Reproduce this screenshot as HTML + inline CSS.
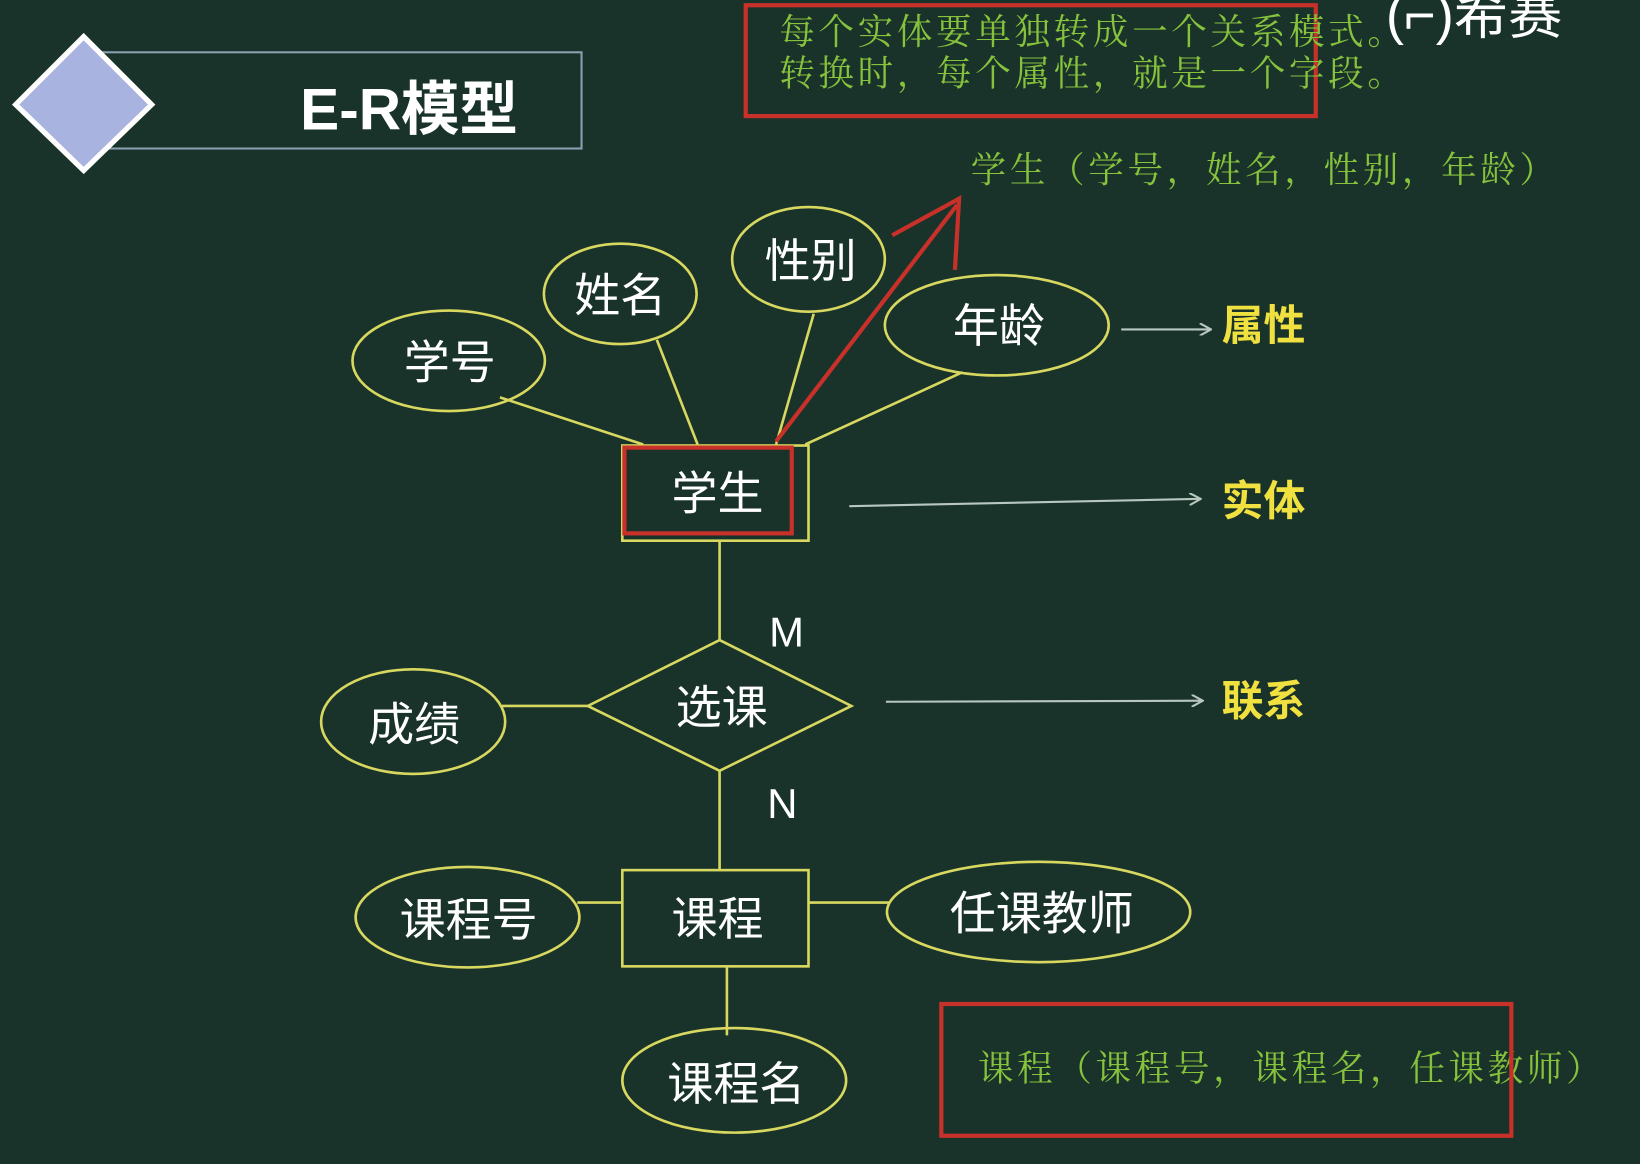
<!DOCTYPE html>
<html><head><meta charset="utf-8"><style>
html,body{margin:0;padding:0;background:#19332a;}
svg{display:block}
</style></head><body>
<svg width="1640" height="1164" viewBox="0 0 1568 1113" preserveAspectRatio="none" xmlns="http://www.w3.org/2000/svg" font-family="'Liberation Sans','Noto Sans CJK SC',sans-serif">
<defs>
<marker id="ga" markerWidth="12" markerHeight="12" refX="11" refY="6" orient="auto" markerUnits="userSpaceOnUse"><path d="M0,0 L11,6 L0,12" fill="none" stroke="#b8c8c0" stroke-width="2"/></marker>
</defs>
<rect width="1568" height="1113" fill="#19332a"/>
<rect x="90" y="50" width="466" height="92" fill="none" stroke="#8aa0b0" stroke-width="2"/>
<polygon points="80,35 145,100 80,163 15,100" fill="#a9b3e0" stroke="#ffffff" stroke-width="5"/>
<text x="287" y="124" font-size="56" font-weight="bold" fill="#ffffff">E-R模型</text>
<rect x="713" y="5" width="545" height="106" fill="none" stroke="#c8302a" stroke-width="4"/>
<g style="font-family:'Noto Serif CJK SC','Liberation Serif',serif" fill="#86c23c" font-size="34" letter-spacing="3.5">
<text x="745" y="42">每个实体要单独转成一个关系模式。</text>
<text x="745" y="82">转换时，每个属性，就是一个字段。</text>
<text x="928" y="174">学生（学号，姓名，性别，年龄）</text>
<text x="935" y="1033">课程（课程号，课程名，任课教师）</text>
</g>
<text x="1325" y="32" font-size="52" fill="#ffffff">(⌐)希赛</text>
<rect x="900" y="960" width="545" height="126" fill="none" stroke="#c8302a" stroke-width="4"/>
<g stroke="#d8d860" stroke-width="2.5" fill="none">
<line x1="478" y1="380" x2="615" y2="425"/>
<line x1="628" y1="325" x2="667" y2="425"/>
<line x1="778" y1="300" x2="742" y2="425"/>
<line x1="920" y1="356" x2="770" y2="425"/>
<line x1="688" y1="517" x2="688" y2="612"/>
<line x1="688" y1="737" x2="688" y2="832"/>
<line x1="480" y1="675" x2="562" y2="675"/>
<line x1="552" y1="863" x2="595" y2="863"/>
<line x1="773" y1="863" x2="850" y2="863"/>
<line x1="695" y1="925" x2="695" y2="990"/>
<ellipse cx="429" cy="345" rx="92" ry="48"/>
<ellipse cx="593" cy="281" rx="73" ry="48"/>
<ellipse cx="773" cy="248" rx="73" ry="50"/>
<ellipse cx="953" cy="311" rx="107" ry="48"/>
<rect x="595" y="426" width="178" height="91"/>
<polygon points="688,612 814,675 688,737 562,675"/>
<ellipse cx="395" cy="690" rx="88" ry="50"/>
<rect x="595" y="832" width="178" height="92"/>
<ellipse cx="447" cy="877" rx="107" ry="48"/>
<ellipse cx="993" cy="872" rx="145" ry="48"/>
<ellipse cx="702" cy="1033" rx="107" ry="50"/>
</g>
<rect x="597" y="428" width="160" height="82" fill="none" stroke="#c8302a" stroke-width="4"/>
<line x1="742" y1="422" x2="915" y2="196" stroke="#c8302a" stroke-width="4"/>
<polyline points="853,225 917,190 913,258" fill="none" stroke="#c8302a" stroke-width="4"/>
<g fill="#ffffff" font-size="44" text-anchor="middle">
<text x="430" y="362">学号</text>
<text x="593" y="298">姓名</text>
<text x="775" y="265">性别</text>
<text x="955" y="327">年龄</text>
<text x="686" y="487">学生</text>
<text x="690" y="692">选课</text>
<text x="396" y="708">成绩</text>
<text x="686" y="894">课程</text>
<text x="448" y="895">课程号</text>
<text x="996" y="889">任课教师</text>
<text x="704" y="1052">课程名</text>
<text x="752" y="618" font-size="40">M</text>
<text x="748" y="782" font-size="40">N</text>
</g>
<g stroke="#b8c8c0" stroke-width="2" marker-end="url(#ga)">
<line x1="1072" y1="315" x2="1158" y2="315"/>
<line x1="812" y1="484" x2="1148" y2="477"/>
<line x1="847" y1="671" x2="1150" y2="670"/>
</g>
<g fill="#f0e040" font-size="40" font-weight="bold">
<text x="1168" y="325">属性</text>
<text x="1168" y="493">实体</text>
<text x="1168" y="684">联系</text>
</g>
</svg>
</body></html>
